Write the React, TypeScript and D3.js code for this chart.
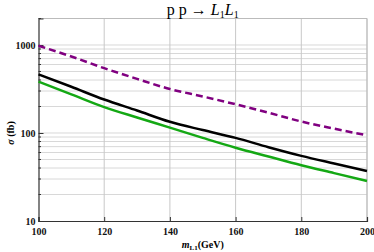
import React, { useEffect, useRef } from 'react';
import * as d3 from 'd3';

const svgWidth = 374;
const svgHeight = 252;
const margin = { left: 38.5, right: 7, top: 18.5, bottom: 31 };
const width = svgWidth - margin.left - margin.right;
const height = svgHeight - margin.top - margin.bottom;

// masses (GeV)
const masses = [100, 110, 120, 130, 140, 150, 160, 170, 180, 190, 200];
// cross sections (fb)
const purpleVals = [980, 740, 545, 412, 316, 260, 212, 170, 135, 112, 94];
const blackVals = [464, 335, 240, 180, 134, 108, 88, 69, 55, 45, 37];
const greenVals = [383, 275, 197, 150, 115, 88, 68, 54, 43, 35, 28.5];

const xTicks = [100, 120, 140, 160, 180, 200];
const yTicks = [10, 100, 1000];

const serif = '"Liberation Serif", "DejaVu Serif", serif';

const translate = (x: number, y: number) => 'translate(' + x + ',' + y + ')';

const App = () => {
    const ref = useRef<SVGSVGElement>(null);

    useEffect(() => {
        const svg = d3.select(ref.current);
        svg.selectAll('*').remove();

        const xScale = d3.scaleLinear().domain([100, 200]).range([0, width]);
        const yScale = d3.scaleLog().domain([10, 2000]).range([height, 0]);

        const chart = svg.append('g').attr('transform', translate(margin.left, margin.top));

        // minor horizontal grid
        const minor: number[] = [];
        [10, 100, 1000].forEach(dec => {
            for (let k = 2; k <= 9; k++) if (dec * k <= 2000) minor.push(dec * k);
        });
        chart.selectAll('.hgrid').data(minor.concat([100, 1000])).enter()
            .append('line')
            .attr('x1', 0).attr('x2', width)
            .attr('y1', d => yScale(d)).attr('y2', d => yScale(d))
            .attr('stroke', '#d8d8d8').attr('stroke-width', 1);

        // vertical grid
        chart.selectAll('.vgrid').data(xTicks.slice(1)).enter()
            .append('line')
            .attr('x1', d => xScale(d)).attr('x2', d => xScale(d))
            .attr('y1', 0).attr('y2', height)
            .attr('stroke', '#c8c8c8').attr('stroke-width', 1);

        // frame top/right
        chart.append('line').attr('x1', 0).attr('x2', width).attr('y1', 0).attr('y2', 0)
            .attr('stroke', '#bbb');
        chart.append('line').attr('x1', width).attr('x2', width).attr('y1', 0).attr('y2', height)
            .attr('stroke', '#bbb');

        // axes
        const xAxis = chart.append('g').attr('transform', translate(0, height))
            .call(d3.axisBottom(xScale).tickValues(xTicks).tickSize(-4).tickPadding(7).tickFormat(d3.format('d')));
        const yAxis = chart.append('g')
            .call(d3.axisLeft(yScale).tickValues(yTicks).tickSize(-5).tickPadding(3).tickFormat(d3.format('d')));
        [xAxis, yAxis].forEach(a => {
            a.select('.domain').attr('stroke', '#333').attr('stroke-width', 1.2);
            a.selectAll('.tick line').attr('stroke', '#333');
            a.selectAll('text').attr('font-family', serif).attr('font-weight', 'bold')
                .attr('font-size', 10).attr('fill', '#111');
        });
        // minor y ticks
        chart.selectAll('.ymin').data(minor).enter()
            .append('line')
            .attr('x1', 0).attr('x2', 2.5)
            .attr('y1', d => yScale(d)).attr('y2', d => yScale(d))
            .attr('stroke', '#333');

        const line = d3.line<number>()
            .x((d, i) => xScale(masses[i]))
            .y(d => yScale(d))
            .curve(d3.curveMonotoneX);

        chart.append('path').datum(greenVals).attr('d', line)
            .attr('fill', 'none').attr('stroke', '#14a814').attr('stroke-width', 2.5);
        chart.append('path').datum(blackVals).attr('d', line)
            .attr('fill', 'none').attr('stroke', '#000').attr('stroke-width', 2.5);
        chart.append('path').datum(purpleVals).attr('d', line)
            .attr('fill', 'none').attr('stroke', '#800080').attr('stroke-width', 2.5)
            .attr('stroke-dasharray', '7,4');

        // title
        const title = svg.append('text')
            .attr('x', margin.left + width / 2).attr('y', 15)
            .attr('text-anchor', 'middle').attr('font-family', serif).attr('font-size', 16);
        title.append('tspan').text('p p \u2192 ');
        title.append('tspan').attr('font-style', 'italic').text('L');
        title.append('tspan').attr('font-size', 10).attr('dy', 3).text('1');
        title.append('tspan').attr('font-style', 'italic').attr('dy', -3).text('L');
        title.append('tspan').attr('font-size', 10).attr('dy', 3).text('1');

        // x label
        const xl = svg.append('text')
            .attr('x', margin.left + width / 2).attr('y', 248)
            .attr('text-anchor', 'middle').attr('font-family', serif).attr('font-size', 10)
            .attr('font-weight', 'bold');
        xl.append('tspan').attr('font-style', 'italic').text('m');
        xl.append('tspan').attr('font-size', 7).attr('dy', 2).text('L1');
        xl.append('tspan').attr('dy', -2).text('(GeV)');

        // y label
        const yl = svg.append('text')
            .attr('transform', translate(14, 133) + ' rotate(-90)')
            .attr('text-anchor', 'middle').attr('font-family', serif).attr('font-size', 10)
            .attr('font-weight', 'bold');
        yl.append('tspan').attr('font-style', 'italic').text('\u03c3');
        yl.append('tspan').text(' (fb)');
    }, []);

    return (
        <svg ref={ref} width={svgWidth} height={svgHeight}
            style={{ position: 'absolute', left: 0, top: 0, background: '#fff' }} />
    );
};

export default App;
